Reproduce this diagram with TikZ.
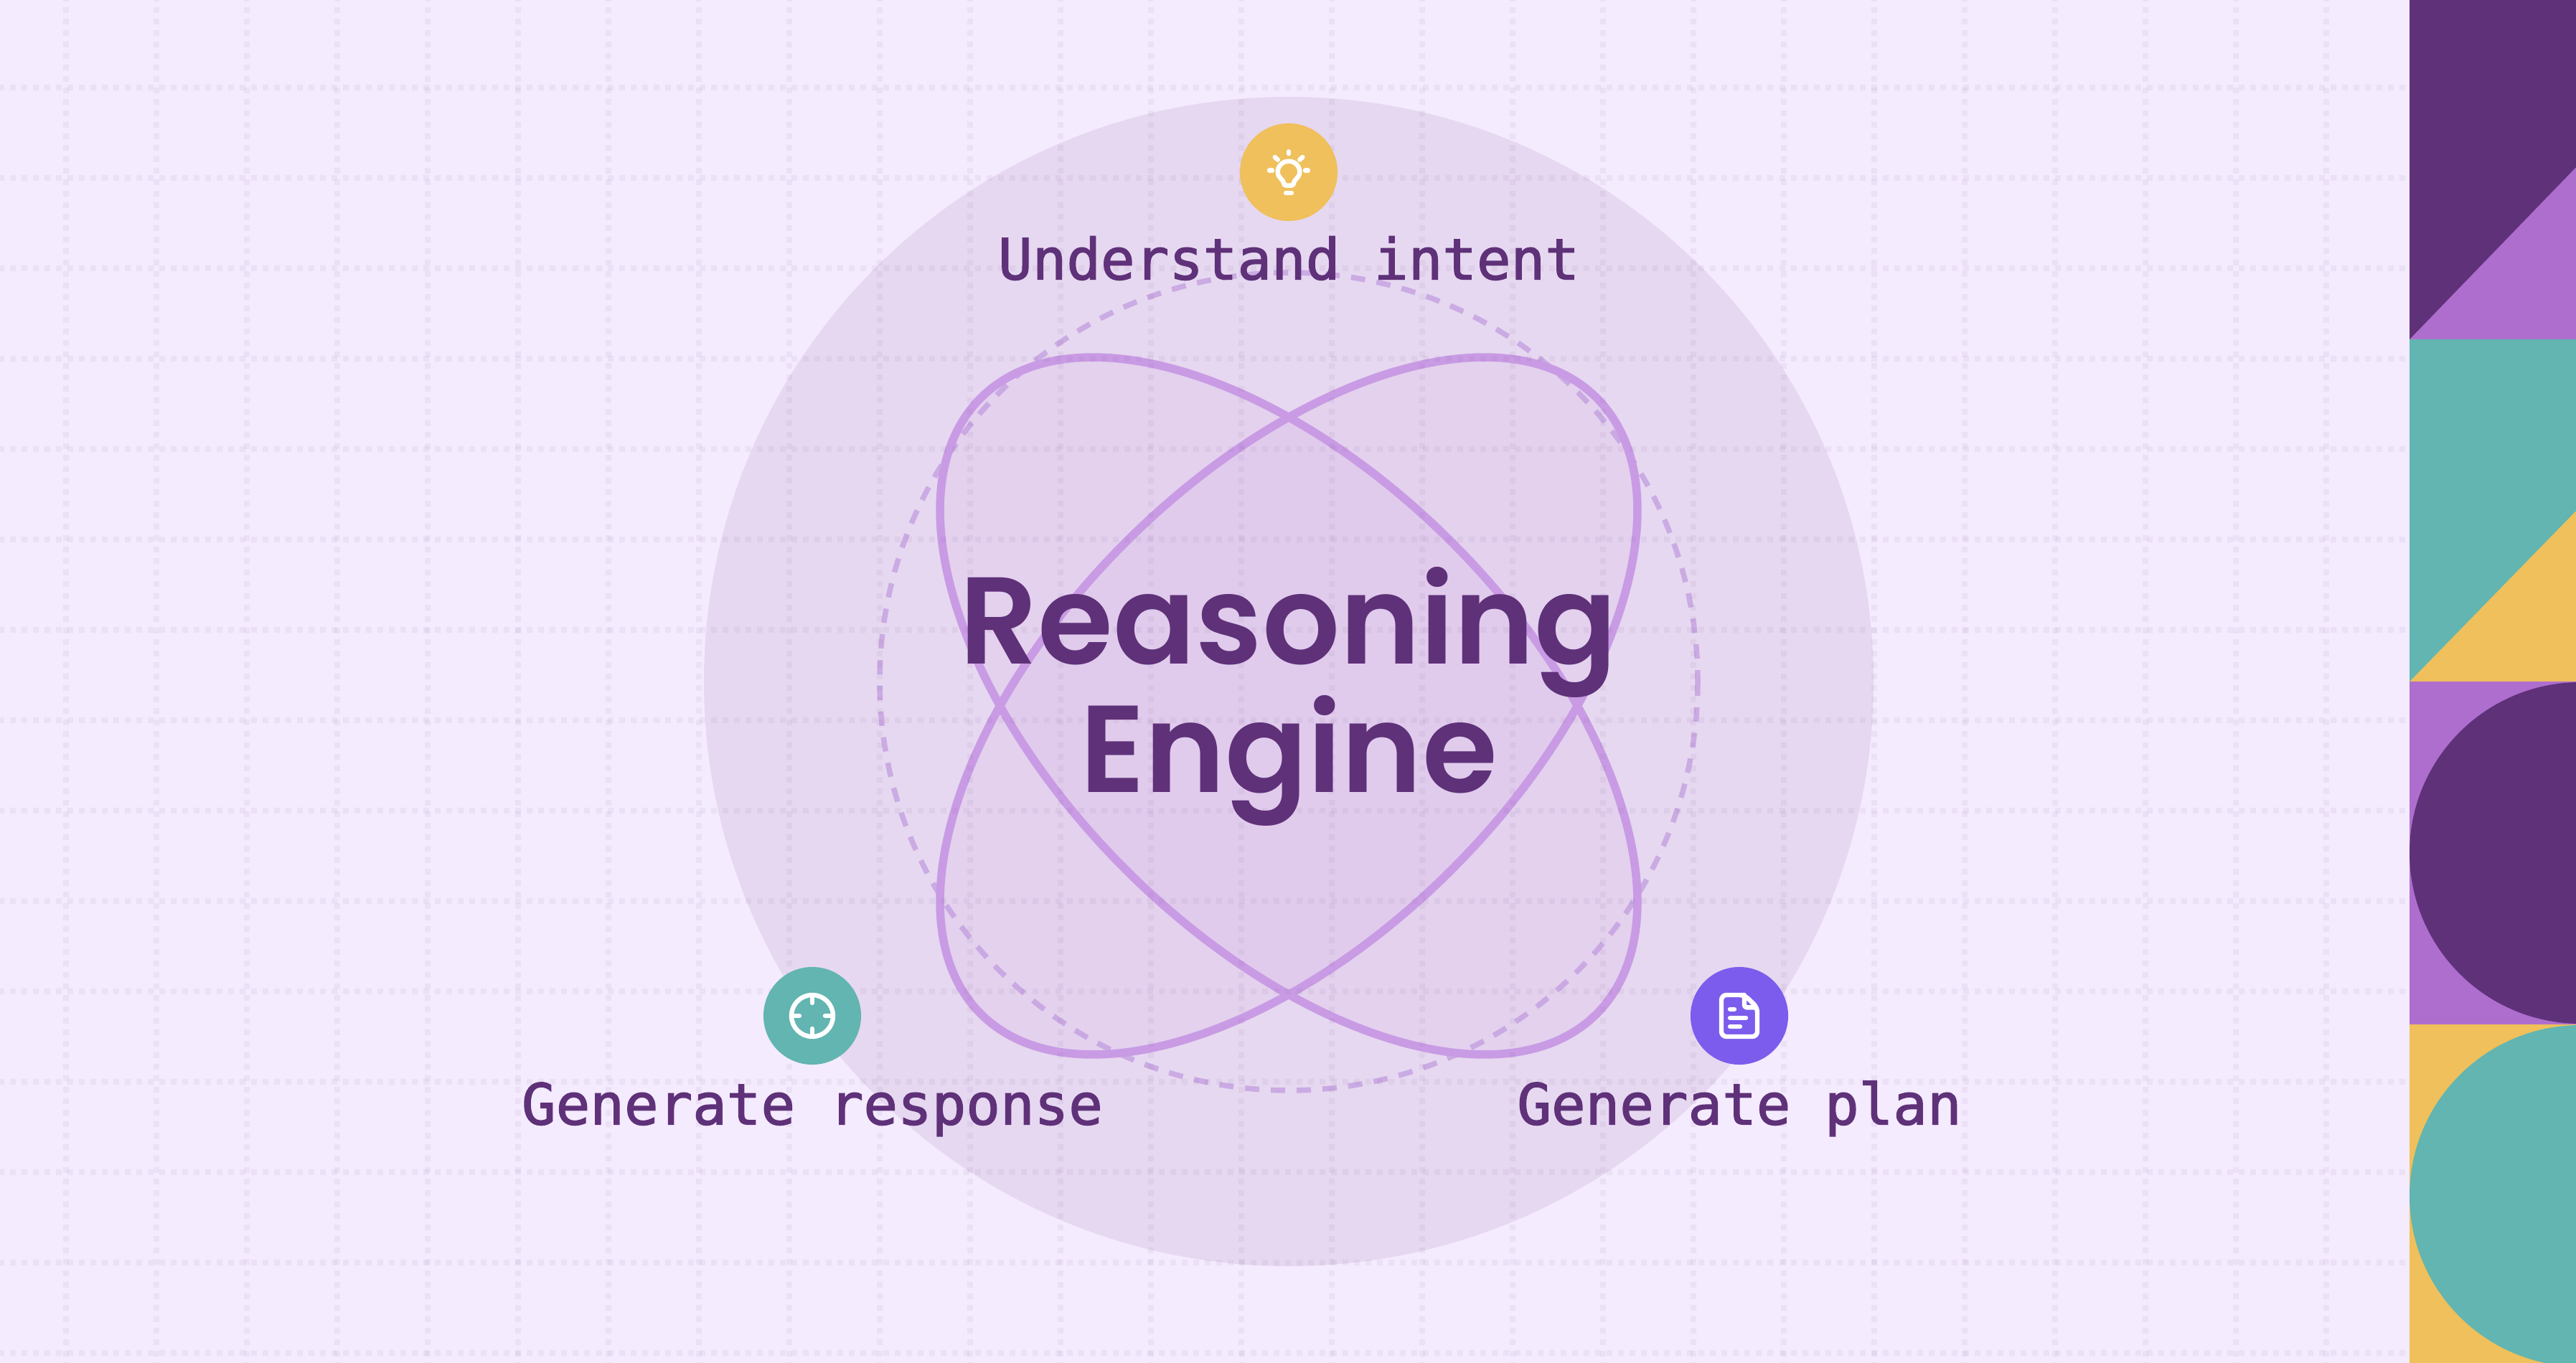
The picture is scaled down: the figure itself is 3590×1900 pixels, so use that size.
\documentclass[tikz,border=0pt]{standalone}
\usepackage{fontspec}
\usetikzlibrary{positioning}
\newfontfamily\titlefont{Poppins SemiBold}
\newfontfamily\monofont{DejaVu Sans Mono}[FakeBold=1.8]
\definecolor{pagebg}{HTML}{F4EBFE}
\definecolor{diskbg}{HTML}{E6D8F0}
\definecolor{darkpurple}{HTML}{5F3179}
\definecolor{midpurple}{HTML}{AE6ECE}
\definecolor{orbitline}{HTML}{C99BE4}
\definecolor{dashline}{HTML}{CBABE3}
\definecolor{tealpart}{HTML}{62B5B1}
\definecolor{yellowpart}{HTML}{EFC05B}
\definecolor{violetpart}{HTML}{7C5CEC}

\begin{document}
\begin{tikzpicture}[x=0.01cm,y=-0.01cm,
		iconnode/.style={circle,inner sep=0pt,minimum size=1.36cm},
		labelnode/.style={inner sep=0pt,text height=0.6cm,text depth=0pt,text=darkpurple,font=\monofont\fontsize{22.5pt}{26pt}\selectfont},
		titlenode/.style={inner sep=0pt,anchor=base,xscale=0.985,text=darkpurple,font=\titlefont\fontsize{49pt}{49pt}\selectfont},
		gridline/.style={darkpurple,opacity=0.055,line width=0.08cm,dash pattern=on 0.08cm off 0.08cm},
		orbit/.style={orbitline,line width=0.115cm,fill opacity=0.1,fill=orbitline},
		iconline/.style={white,line width=0.064cm,line cap=round,line join=round}]
		\useasboundingbox (0,0) rectangle (3590,1900);
		\fill[pagebg] (0,0) rectangle (3590,1900);

		% big disk and orbits
		\fill[diskbg] (1796,950) circle[radius=815];
		\draw[dashline,line width=0.075cm,dash pattern=on 0.2cm off 0.16cm] (1796,950) circle[radius=570];
		\draw[orbit,rotate around={45:(1796,984)}] (1796,984) ellipse[x radius=607,y radius=322];
		\draw[orbit,rotate around={-45:(1796,984)}] (1796,984) ellipse[x radius=607,y radius=322];

		% dotted grid
		\foreach \gx in {0,...,25}
			\draw[gridline] ({92+126*\gx},-6) -- ({92+126*\gx},1900);
		\foreach \gy in {0,...,14}
			\draw[gridline] (-2,{122+126*\gy}) -- (3358,{122+126*\gy});

		% panels on the right
		\fill[midpurple] (3358,0) rectangle (3590,473);
		\fill[darkpurple] (3358,0) -- (3590,0) -- (3590,233) -- (3358,473) -- cycle;
		\fill[yellowpart] (3358,473) rectangle (3590,950);
		\fill[tealpart] (3358,473) -- (3590,473) -- (3590,712) -- (3358,950) -- cycle;
		\fill[midpurple] (3358,950) rectangle (3590,1428);
		\fill[darkpurple] (3596,1189) circle[radius=238];
		\fill[yellowpart] (3358,1428) rectangle (3590,1900);
		\fill[tealpart] (3596,1667) circle[radius=238];

		% title
		\node[titlenode] (reasoning) at (1796,925) {Reasoning};
		\node[titlenode] (engine) at (1796,1104) {Engine};

		% steps
		\node[iconnode,fill=yellowpart] (intent) at (1796,240) {};
		\node[iconnode,fill=tealpart] (response) at (1132,1416) {};
		\node[iconnode,fill=violetpart] (plan) at (2424,1416) {};
		\node[labelnode,node distance=2mm,below=of intent] (intentlabel) {Understand intent};
		\node[labelnode,node distance=2.2mm,below=of response] (responselabel) {Generate response};
		\node[labelnode,node distance=2.2mm,below=of plan] (planlabel) {Generate plan};

		% bulb icon
		\begin{scope}[shift={(intent.center)},x=0.01cm,y=-0.01cm]
			\draw[iconline] (0,-15.3) .. controls (8.5,-15.3) and (15.3,-8.5) .. (15.3,-0.5) .. controls (15.3,4) and (13,7) .. (10.5,9.5) .. controls (8.5,11.5) and (7.5,12.5) .. (7.5,14) .. controls (7.5,17) and (5.5,18.7) .. (3,18.7) -- (-3,18.7) .. controls (-5.5,18.7) and (-7.5,17) .. (-7.5,14) .. controls (-7.5,12.5) and (-8.5,11.5) .. (-10.5,9.5) .. controls (-13,7) and (-15.3,4) .. (-15.3,-0.5) .. controls (-15.3,-8.5) and (-8.5,-15.3) .. (0,-15.3) -- cycle;
			\draw[iconline] (-4,29) -- (4,29);
			\draw[iconline] (0,-28.7) -- (0,-25.7);
			\draw[iconline] (-27,-2.3) -- (-23,-2.3);
			\draw[iconline] (27,-2.3) -- (23,-2.3);
			\draw[iconline] (-19.3,-21) -- (-15.3,-17.3);
			\draw[iconline] (19.3,-21) -- (15.3,-17.3);
		\end{scope}

		% target icon
		\begin{scope}[shift={(response.center)},x=0.01cm,y=-0.01cm]
			\draw[iconline] (0,0) circle[radius=29];
			\draw[iconline] (0,-29) -- (0,-18);
			\draw[iconline] (0,29) -- (0,18);
			\draw[iconline] (-29,0) -- (-18,0);
			\draw[iconline] (29,0) -- (18,0);
		\end{scope}

		% document icon
		\begin{scope}[shift={(plan.center)},x=0.01cm,y=-0.01cm]
			\draw[iconline,rounded corners=0.07cm] (0,-29) -- (-25,-29) -- (-25,29) -- (25,29) -- (25,-11.7) -- (7,-29) -- cycle;
			\draw[iconline,rounded corners=0.03cm] (7,-27) -- (7,-11.7) -- (23,-11.7);
			\draw[iconline] (-13,-9.3) -- (-7,-9.3);
			\draw[iconline] (-13,3) -- (9,3);
			\draw[iconline] (-13,15) -- (1,15);
		\end{scope}
	\end{tikzpicture}
\end{document}
